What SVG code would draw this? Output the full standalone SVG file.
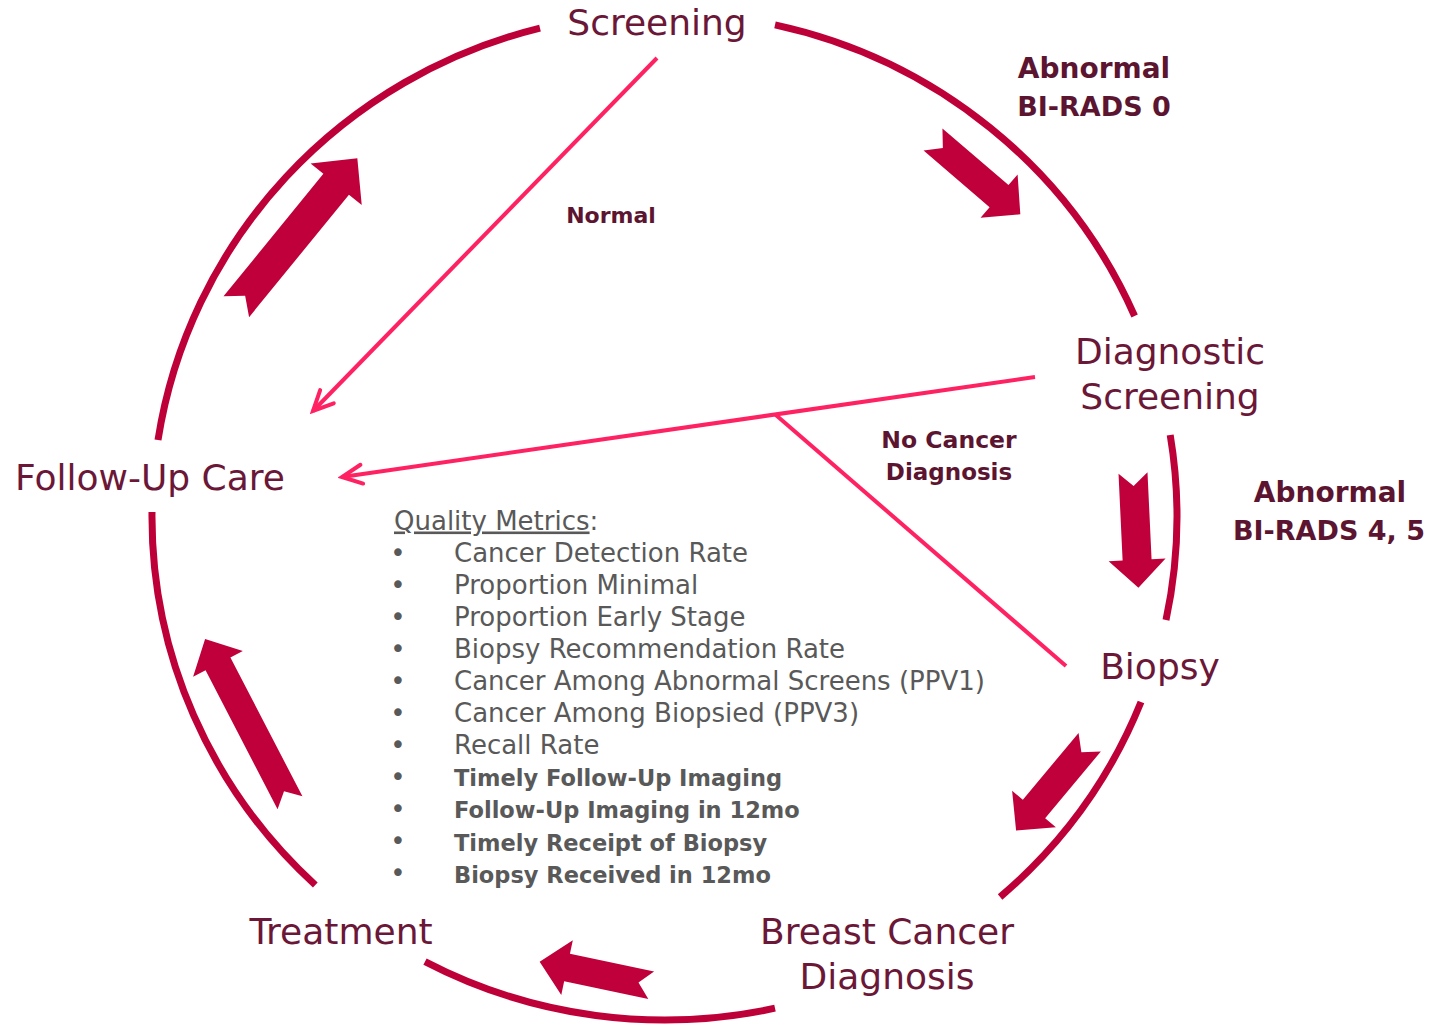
<svg xmlns="http://www.w3.org/2000/svg" width="1431" height="1026" viewBox="0 0 1431 1026">
<style>
.ring{fill:none;stroke:#BE0039;stroke-width:7}
.blk{fill:#C0003A}
.pink{fill:none;stroke:#FF2262;stroke-width:4}
.node{font-family:"DejaVu Sans",sans-serif;font-size:36px;fill:#6B1737;text-anchor:middle}
.lbl{font-family:"DejaVu Sans",sans-serif;font-weight:bold;fill:#5C1530;text-anchor:middle}
.qm{font-family:"DejaVu Sans",sans-serif;fill:#595959;font-size:26px}
.qb{font-family:"DejaVu Sans",sans-serif;fill:#595959;font-size:22.5px;font-weight:bold}
.bul{font-family:"DejaVu Sans",sans-serif;fill:#595959;font-size:26px;text-anchor:middle}
</style>
<defs>
<marker id="chev" markerUnits="userSpaceOnUse" viewBox="-26 -14 30 28" markerWidth="30" markerHeight="28" refX="0" refY="0" orient="auto">
<path d="M-20,-9.5 L0,0 L-20,9.5" fill="none" stroke="#FF2262" stroke-width="4" stroke-linecap="round" stroke-linejoin="miter"/>
</marker>
</defs>
<rect width="1431" height="1026" fill="#FFFFFF"/>
<g id="connectors">
<path class="ring" d="M158,440 A512.5,503.5 0 0 1 540,28.1"/>
<path class="ring" d="M775,24.8 A512.5,503.5 0 0 1 1134.6,316"/>
<path class="ring" d="M1170.2,435 A512.5,503.5 0 0 1 1166,620"/>
<path class="ring" d="M1141,702 A512.5,503.5 0 0 1 1000.1,897"/>
<path class="ring" d="M775,1008.2 A512.5,503.5 0 0 1 425,961.6"/>
<path class="ring" d="M315.3,885 A512.5,503.5 0 0 1 152,512"/>
<polygon class="blk" transform="translate(933,139.5) rotate(40.6)" points="0,-14.5 87,-14.5 87,-28.5 115,0 87,28.5 87,14.5 0,14.5 13,0"/>
<polygon class="blk" transform="translate(1133,473) rotate(87.3)" points="0,-14.5 87,-14.5 87,-28.5 115,0 87,28.5 87,14.5 0,14.5 13,0"/>
<polygon class="blk" transform="translate(1089.7,742.2) rotate(129.8)" points="0,-14.5 87,-14.5 87,-28.5 115,0 87,28.5 87,14.5 0,14.5 13,0"/>
<polygon class="blk" transform="translate(651.2,985.3) rotate(191.9)" points="0,-14 86,-14 86,-28 114,0 86,28 86,14 0,14 13,0"/>
<polygon class="blk" transform="translate(290,802.8) rotate(242.6)" points="0,-14 156.5,-14 156.5,-28 184.5,0 156.5,28 156.5,14 0,14 13,0"/>
<polygon class="blk" transform="translate(236.3,306.7) rotate(-50.8)" points="0,-16.5 158,-16.5 158,-33 191.5,0 158,33 158,16.5 0,16.5 14,0"/>
<line class="pink" x1="657" y1="58" x2="313" y2="411" marker-end="url(#chev)"/>
<line class="pink" x1="1035" y1="377" x2="342" y2="477" marker-end="url(#chev)"/>
<line class="pink" x1="775" y1="414.3" x2="1066" y2="666"/>
<text class="lbl" font-size="28" x="1094" y="78">Abnormal</text>
<text class="lbl" font-size="27" x="1094" y="116">BI-RADS 0</text>
<text class="lbl" font-size="28" x="1330" y="502">Abnormal</text>
<text class="lbl" font-size="27" x="1329" y="540">BI-RADS 4, 5</text>
<text class="lbl" font-size="22" x="611" y="223">Normal</text>
<text class="lbl" font-size="23.5" x="949" y="448">No Cancer</text>
<text class="lbl" font-size="23" x="949" y="480">Diagnosis</text>
</g>
<g id="screening"><text class="node" x="657" y="35">Screening</text></g>
<g id="diagnostic-screening"><text class="node" x="1170" y="364">Diagnostic</text><text class="node" x="1170" y="409">Screening</text></g>
<g id="biopsy"><text class="node" x="1160" y="679">Biopsy</text></g>
<g id="breast-cancer-diagnosis"><text class="node" x="887" y="944">Breast Cancer</text><text class="node" x="887" y="989">Diagnosis</text></g>
<g id="treatment"><text class="node" x="341" y="944">Treatment</text></g>
<g id="follow-up-care"><text class="node" x="150" y="490">Follow-Up Care</text></g>
<g id="quality-metrics">
<text class="qm" x="394" y="529.5"><tspan text-decoration="underline">Quality Metrics</tspan>:</text>
<text class="bul" x="398" y="562">•</text><text class="qm" x="454" y="561.6">Cancer Detection Rate</text>
<text class="bul" x="398" y="594">•</text><text class="qm" x="454" y="593.7">Proportion Minimal</text>
<text class="bul" x="398" y="626">•</text><text class="qm" x="454" y="625.8">Proportion Early Stage</text>
<text class="bul" x="398" y="658">•</text><text class="qm" x="454" y="657.9">Biopsy Recommendation Rate</text>
<text class="bul" x="398" y="690">•</text><text class="qm" x="454" y="690">Cancer Among Abnormal Screens (PPV1)</text>
<text class="bul" x="398" y="722">•</text><text class="qm" x="454" y="722.1">Cancer Among Biopsied (PPV3)</text>
<text class="bul" x="398" y="754">•</text><text class="qm" x="454" y="754.2">Recall Rate</text>
<text class="bul" x="398" y="786">•</text><text class="qb" x="454" y="786.3">Timely Follow-Up Imaging</text>
<text class="bul" x="398" y="818">•</text><text class="qb" x="454" y="818.4">Follow-Up Imaging in 12mo</text>
<text class="bul" x="398" y="850">•</text><text class="qb" x="454" y="850.5">Timely Receipt of Biopsy</text>
<text class="bul" x="398" y="882">•</text><text class="qb" x="454" y="882.6">Biopsy Received in 12mo</text>
</g>
</svg>
